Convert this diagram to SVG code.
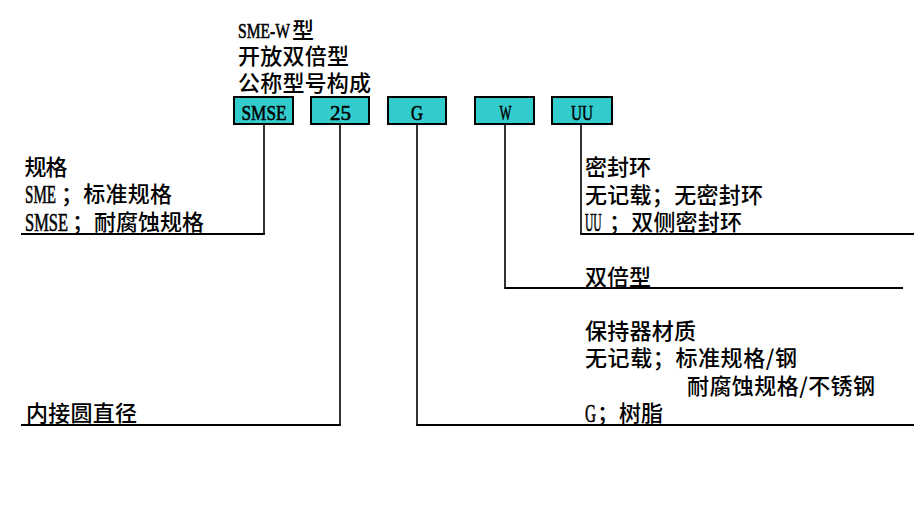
<svg xmlns="http://www.w3.org/2000/svg" width="914" height="526" viewBox="0 0 914 526">
<style>
.box{fill:#33CCCC;stroke:#000;stroke-width:2}
.bt{font-family:"Liberation Serif","Noto Sans CJK SC",serif;font-size:22px;fill:#000;stroke:#000;stroke-width:0.6;text-anchor:middle}
.lat{font-family:"Liberation Serif","Noto Sans CJK SC",serif;font-size:25px;fill:#000;stroke:#000;stroke-width:0.6}
.cjk{font-family:"Noto Sans CJK SC","Liberation Serif",sans-serif;font-size:22px;font-weight:500;fill:#000}
.v{stroke:#000;stroke-width:1.6;fill:none}
.h{stroke:#000;stroke-width:2;fill:none}
</style>
<rect width="914" height="526" fill="#fff"/>
<g id="title">
<text class="lat" transform="translate(238,38) scale(0.709,1)" style="font-size:22px">SME-W</text>
<text class="cjk" x="292" y="37.5">型</text>
<text class="cjk" x="238" y="63.5" textLength="111">开放双倍型</text>
<text class="cjk" x="238" y="90.5" textLength="133">公称型号构成</text>
</g>
<g id="node-smse">
<rect class="box" x="234" y="97" width="59" height="27"/>
<text class="bt" transform="translate(264,119.5) scale(0.783,1)">SMSE</text>
</g>
<g id="node-25">
<rect class="box" x="311" y="97" width="58" height="27"/>
<text class="bt" transform="translate(340.5,119.5) scale(0.955,1)">25</text>
</g>
<g id="node-g">
<rect class="box" x="388" y="97" width="58" height="27"/>
<text class="bt" transform="translate(417,119.5) scale(0.755,1)">G</text>
</g>
<g id="node-w">
<rect class="box" x="475" y="97" width="59" height="27"/>
<text class="bt" transform="translate(505.5,119.5) scale(0.578,1)">W</text>
</g>
<g id="node-uu">
<rect class="box" x="552" y="97" width="60" height="27"/>
<text class="bt" transform="translate(582,119.5) scale(0.692,1)">UU</text>
</g>
<g id="connectors">
<path class="v" d="M264,124V234"/>
<path class="h" d="M21,234H264.8"/>
<path class="v" d="M340,124V425"/>
<path class="h" d="M21,425H340.8"/>
<path class="v" d="M417,124V425"/>
<path class="h" d="M416.2,425H914"/>
<path class="v" d="M505,124V288"/>
<path class="h" d="M504.2,288H903"/>
<path class="v" d="M581,124V234"/>
<path class="h" d="M580.2,234H914"/>
</g>
<g id="label-spec">
<text class="cjk" x="24.5" y="174.5" textLength="43">规格</text>
<text class="lat" transform="translate(25,203) scale(0.603,1)">SME</text>
<text class="cjk" x="61" y="202" textLength="111">；标准规格</text>
<text class="lat" transform="translate(25,230.5) scale(0.658,1)">SMSE</text>
<text class="cjk" x="72" y="229.5" textLength="132">；耐腐蚀规格</text>
</g>
<g id="label-diameter">
<text class="cjk" x="26" y="421" textLength="111">内接圆直径</text>
</g>
<g id="label-seal">
<text class="cjk" x="585" y="175" textLength="66">密封环</text>
<text class="cjk" x="585" y="202.5" textLength="178">无记载；无密封环</text>
<text class="lat" transform="translate(585,231) scale(0.46,1)">UU</text>
<text class="cjk" x="609" y="230" textLength="133">；双侧密封环</text>
</g>
<g id="label-double">
<text class="cjk" x="585" y="285" textLength="66">双倍型</text>
</g>
<g id="label-cage">
<text class="cjk" x="585" y="338.5" textLength="111">保持器材质</text>
<text class="cjk" x="585" y="366" textLength="212">无记载；标准规格/钢</text>
<text class="cjk" x="687" y="393.5" textLength="188">耐腐蚀规格/不锈钢</text>
<text class="lat" transform="translate(585,421.5) scale(0.61,1)">G</text>
<text class="cjk" x="597" y="421" textLength="66">；树脂</text>
</g>
</svg>
